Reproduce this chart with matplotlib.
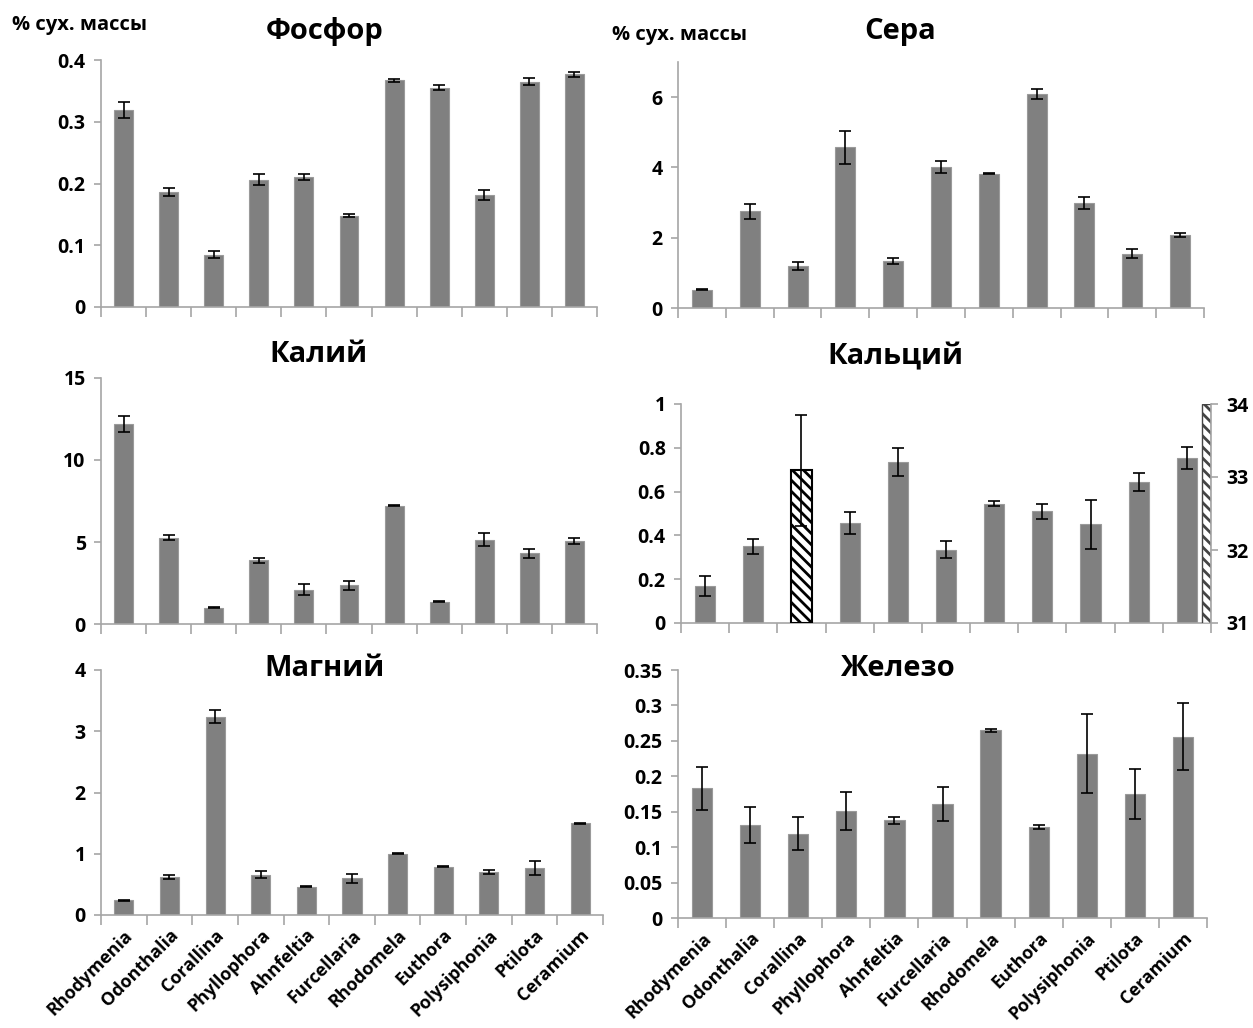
import matplotlib.pyplot as plt
import numpy as np
from matplotlib.ticker import FuncFormatter

plt.rcParams['font.family'] = ['Open Sans', 'DejaVu Sans']
plt.rcParams['font.weight'] = 'bold'
plt.rcParams['hatch.linewidth'] = 2.0

species = ['Rhodymenia', 'Odonthalia', 'Corallina', 'Phyllophora', 'Ahnfeltia',
           'Furcellaria', 'Rhodomela', 'Euthora', 'Polysiphonia', 'Ptilota', 'Ceramium']

# % of dry mass, mean and error
phos = [0.319, 0.186, 0.085, 0.206, 0.210, 0.148, 0.367, 0.355, 0.181, 0.365, 0.377]
phos_err = [0.013, 0.007, 0.006, 0.009, 0.005, 0.003, 0.002, 0.004, 0.008, 0.006, 0.004]

sulf = [0.52, 2.75, 1.20, 4.58, 1.33, 4.00, 3.82, 6.10, 3.00, 1.55, 2.07]
sulf_err = [0.01, 0.22, 0.12, 0.47, 0.09, 0.17, 0.02, 0.14, 0.17, 0.12, 0.05]

kal = [12.2, 5.25, 1.0, 3.9, 2.1, 2.35, 7.2, 1.35, 5.15, 4.3, 5.05]
kal_err = [0.5, 0.15, 0.05, 0.15, 0.35, 0.3, 0.03, 0.03, 0.38, 0.25, 0.2]

# calcium: Corallina goes on the right axis (31-34)
calc = [0.17, 0.35, np.nan, 0.455, 0.735, 0.335, 0.545, 0.51, 0.45, 0.645, 0.755]
calc_err = [0.045, 0.035, 0.0, 0.05, 0.065, 0.04, 0.012, 0.035, 0.11, 0.04, 0.05]
calc_coral = 33.09
calc_coral_err = 0.76
calc_right_marker = 34.0

magn = [0.24, 0.62, 3.24, 0.66, 0.46, 0.60, 1.00, 0.79, 0.70, 0.77, 1.50]
magn_err = [0.01, 0.03, 0.10, 0.06, 0.01, 0.07, 0.01, 0.01, 0.03, 0.11, 0.01]

ferr = [0.183, 0.131, 0.119, 0.151, 0.138, 0.161, 0.265, 0.128, 0.232, 0.175, 0.256]
ferr_err = [0.030, 0.025, 0.023, 0.027, 0.005, 0.024, 0.002, 0.003, 0.056, 0.035, 0.047]

W, H = 1253, 1028
fig = plt.figure(figsize=(W / 100, H / 100), dpi=100)

def rect(x0, y0, x1, y1):
    # pixel box -> figure fraction
    return [x0 / W, 1 - y1 / H, (x1 - x0) / W, (y1 - y0) / H]

GREY = '#808080'
SPINE = '#a6a6a6'
TICKSIZE = 14
x = np.arange(len(species))

def panel(r, vals, errs, ymax, yticks, labels=False):
    ax = fig.add_axes(r)
    ax.bar(x, vals, width=0.42, color=GREY, edgecolor='#9a9a9a', linewidth=0.8, zorder=2)
    ax.errorbar(x, vals, yerr=errs, fmt='none', ecolor='black', elinewidth=1.2,
                capsize=4, capthick=1.2, zorder=3)
    ax.set_xlim(-0.5, len(species) - 0.5)
    ax.set_ylim(0, ymax)
    ax.set_yticks(yticks)
    ax.yaxis.set_major_formatter(FuncFormatter(lambda v, p: '%g' % v))
    for s in ['top', 'right']:
        ax.spines[s].set_visible(False)
    for s in ['left', 'bottom']:
        ax.spines[s].set_color(SPINE)
        ax.spines[s].set_linewidth(1.2)
    ax.set_xticks(np.arange(-0.5, len(species)), [''] * (len(species) + 1))
    ax.tick_params(axis='x', length=7, width=1.2, color=SPINE, direction='out')
    ax.tick_params(axis='y', length=5, width=1.2, color=SPINE, direction='out',
                   labelsize=TICKSIZE, pad=6)
    if labels:
        ax.set_xticks(x, species, minor=True)
        ax.tick_params(axis='x', which='minor', length=0, pad=8)
        for t in ax.get_xticklabels(minor=True):
            t.set_rotation(45)
            t.set_ha('right')
            t.set_rotation_mode('anchor')
            t.set_fontsize(13)
            t.set_fontweight('bold')
    return ax

panel(rect(101, 60, 597, 307), phos, phos_err, 0.4, [0, 0.1, 0.2, 0.3, 0.4])
panel(rect(678, 62, 1204, 308), sulf, sulf_err, 7, [0, 2, 4, 6])
panel(rect(101, 378, 597, 624), kal, kal_err, 15, [0, 5, 10, 15])
ax_ca = panel(rect(681, 404, 1211, 623), calc, calc_err, 1, [0, 0.2, 0.4, 0.6, 0.8, 1])
panel(rect(101, 670, 603, 915), magn, magn_err, 4, [0, 1, 2, 3, 4], labels=True)
panel(rect(678, 670, 1207, 918), ferr, ferr_err, 0.35,
      [0, 0.05, 0.1, 0.15, 0.2, 0.25, 0.3, 0.35], labels=True)

# right-hand scale for calcium
ax_r = ax_ca.twinx()
ax_r.set_ylim(31, 34)
ax_r.set_yticks([31, 32, 33, 34])
ax_r.bar([2], [calc_coral - 31], bottom=31, width=0.42, color='white',
         edgecolor='black', hatch='\\\\\\', linewidth=1.5, zorder=2)
ax_r.errorbar([2], [calc_coral], yerr=[calc_coral_err], fmt='none', ecolor='black',
              elinewidth=1.2, capsize=4, capthick=1.2, zorder=3)
ax_r.bar([10.4], [calc_right_marker - 31], bottom=31, width=0.18, color='white',
         edgecolor='#444444', hatch='\\\\\\', linewidth=1.0, zorder=2)
for s in ['top', 'left', 'bottom']:
    ax_r.spines[s].set_visible(False)
ax_r.spines['right'].set_color(SPINE)
ax_r.spines['right'].set_linewidth(1.2)
ax_r.tick_params(axis='y', length=5, width=1.2, color=SPINE, direction='out',
                 labelsize=TICKSIZE, pad=6)

def ftext(px, py, s, **kw):
    fig.text(px / W, 1 - py / H, s, **kw)

TITLE = 21
ftext(325, 32, 'Фосфор', fontsize=TITLE, ha='center', va='center')
ftext(900, 32, 'Сера', fontsize=TITLE, ha='center', va='center')
ftext(318, 355, 'Калий', fontsize=TITLE, ha='center', va='center')
ftext(895, 357, 'Кальций', fontsize=TITLE, ha='center', va='center')
ftext(325, 668, 'Магний', fontsize=TITLE, ha='center', va='center')
ftext(897, 669, 'Железо', fontsize=TITLE, ha='center', va='center')
ftext(12, 25, '% сух. массы', fontsize=14.5, ha='left', va='center')
ftext(612, 35, '% сух. массы', fontsize=14.5, ha='left', va='center')

fig.savefig('out.png', dpi=100)
